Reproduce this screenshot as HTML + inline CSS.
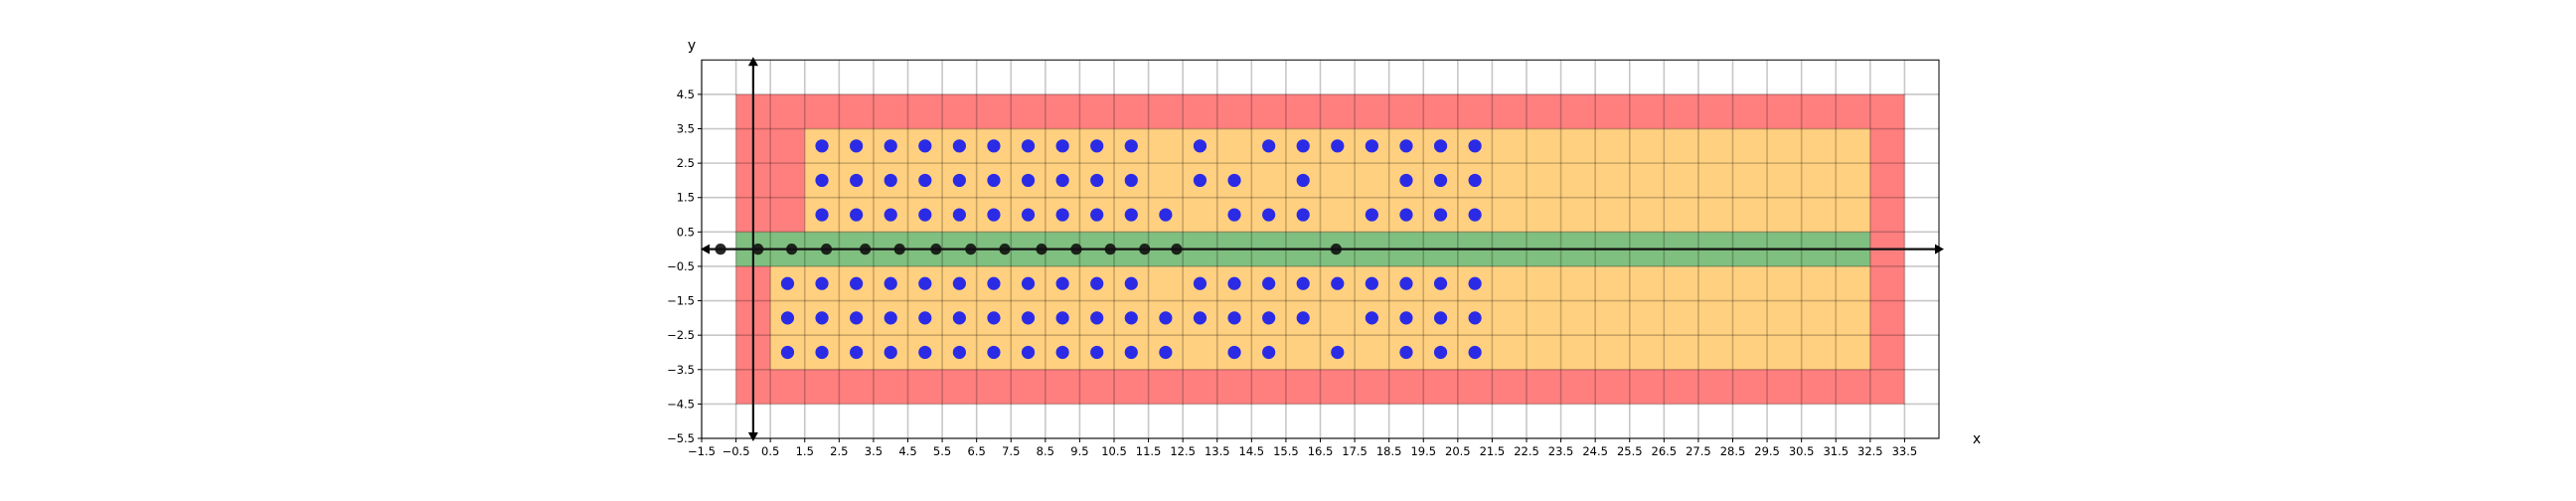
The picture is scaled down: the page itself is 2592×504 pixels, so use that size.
<!DOCTYPE html>
<html><head><meta charset="utf-8"><style>
html,body{margin:0;padding:0;background:#fff;}
svg{display:block;font-family:"DejaVu Sans","Liberation Sans",sans-serif;}
</style></head><body>
<svg id="chart" width="2592" height="504" xmlns="http://www.w3.org/2000/svg"></svg>
<script>
const xTicks=[-1.5,-0.5,0.5,1.5,2.5,3.5,4.5,5.5,6.5,7.5,8.5,9.5,10.5,11.5,12.5,13.5,14.5,15.5,16.5,17.5,18.5,19.5,20.5,21.5,22.5,23.5,24.5,25.5,26.5,27.5,28.5,29.5,30.5,31.5,32.5,33.5];
const yTicks=[4.5,3.5,2.5,1.5,0.5,-0.5,-1.5,-2.5,-3.5,-4.5,-5.5];
const redRegion=[-0.5,33.5,-4.5,4.5];
const yellowTop=[1.5,32.5,0.5,3.5];
const yellowBottom=[0.5,32.5,-3.5,-0.5];
const greenBand=[-0.5,32.5,-0.5,0.5];
const rowY=[3,2,1,-1,-2,-3];
const rowX=[
 [2,3,4,5,6,7,8,9,10,11,13,15,16,17,18,19,20,21],
 [2,3,4,5,6,7,8,9,10,11,13,14,16,19,20,21],
 [2,3,4,5,6,7,8,9,10,11,12,14,15,16,18,19,20,21],
 [1,2,3,4,5,6,7,8,9,10,11,13,14,15,16,17,18,19,20,21],
 [1,2,3,4,5,6,7,8,9,10,11,12,13,14,15,16,18,19,20,21],
 [1,2,3,4,5,6,7,8,9,10,11,12,14,15,17,19,20,21]
];
const axisPtsX=[-0.95,0.14,1.12,2.13,3.26,4.26,5.32,6.33,7.32,8.39,9.4,10.39,11.39,12.32,16.96];

const L=706,R=1951,T=60.3,B=441,XMIN=-1.5,XMAX=34.5,YMIN=-5.5,YMAX=5.5;
const sx=v=>L+(v-XMIN)/(XMAX-XMIN)*(R-L);
const sy=v=>B-(v-YMIN)/(YMAX-YMIN)*(B-T);
const svg=document.getElementById('chart');
const NS='http://www.w3.org/2000/svg';
function mk(tag,attrs,parent){const e=document.createElementNS(NS,tag);for(const k in attrs)e.setAttribute(k,attrs[k]);(parent||svg).appendChild(e);return e;}
function rect(r,fill,name){const e=mk('rect',{x:sx(r[0]),y:sy(r[3]),width:sx(r[1])-sx(r[0]),height:sy(r[2])-sy(r[3]),fill:fill});

}
rect(redRegion,'#ff7f7f','red-region');
rect(yellowTop,'#ffd07f','yellow-region-top');
rect(yellowBottom,'#ffd07f','yellow-region-bottom');
rect(greenBand,'#7fbf7f','green-band');
// grid
xTicks.forEach(t=>{const g=mk('line',{x1:sx(t),x2:sx(t),y1:T,y2:B,stroke:'rgba(0,0,0,0.22)','stroke-width':1.6});

});
yTicks.forEach(t=>{const g=mk('line',{x1:L,x2:R,y1:sy(t),y2:sy(t),stroke:'rgba(0,0,0,0.22)','stroke-width':1.6});

});
// frame
const fr=mk('rect',{x:L,y:T,width:R-L,height:B-T,fill:'none',stroke:'#000','stroke-width':1});


// ticks
xTicks.forEach(t=>{mk('line',{x1:sx(t),x2:sx(t),y1:B,y2:B+4,stroke:'#000'});
const tx=mk('text',{x:sx(t),y:B+17,'text-anchor':'middle','font-size':'11.5',fill:'#000'});tx.textContent=String(t).replace('-','\u2212');

});
yTicks.forEach(t=>{mk('line',{x1:L-4,x2:L,y1:sy(t),y2:sy(t),stroke:'#000'});
const tx=mk('text',{x:L-7,y:sy(t)+4,'text-anchor':'end','font-size':'11.5',fill:'#000'});tx.textContent=String(t).replace('-','\u2212');

});
// axis arrows
const ax=mk('line',{x1:sx(-1.4),x2:sx(34.5),y1:sy(0),y2:sy(0),stroke:'#111','stroke-width':2.2});


mk('polygon',{points:`${sx(-1.5)-1},${sy(0)} ${sx(-1.5)+8},${sy(0)-5} ${sx(-1.5)+8},${sy(0)+5}`,fill:'#000'});
mk('polygon',{points:`${R+5},${sy(0)} ${R-4},${sy(0)-5} ${R-4},${sy(0)+5}`,fill:'#000'});
const ay=mk('line',{x1:sx(0),x2:sx(0),y1:T,y2:B,stroke:'#111','stroke-width':2.2});


mk('polygon',{points:`${sx(0)},${T-3} ${sx(0)-5},${T+6} ${sx(0)+5},${T+6}`,fill:'#000'});
mk('polygon',{points:`${sx(0)},${B+3} ${sx(0)-5},${B-6} ${sx(0)+5},${B-6}`,fill:'#000'});
// blue points
rowY.forEach((y,i)=>rowX[i].forEach(x=>{const c=mk('circle',{cx:sx(x),cy:sy(y),r:6.6,fill:'#2b2be6'});

}));
// black points
axisPtsX.forEach(x=>{const c=mk('circle',{cx:sx(x),cy:sy(0),r:5.6,fill:'#111','fill-opacity':0.9});

});
// axis labels
const xl=mk('text',{x:1989,y:446,'text-anchor':'middle','font-size':'14',fill:'#000'});xl.textContent='x';


const yl=mk('text',{x:696,y:50,'text-anchor':'middle','font-size':'14',fill:'#000'});yl.textContent='y';


</script>
</body></html>
